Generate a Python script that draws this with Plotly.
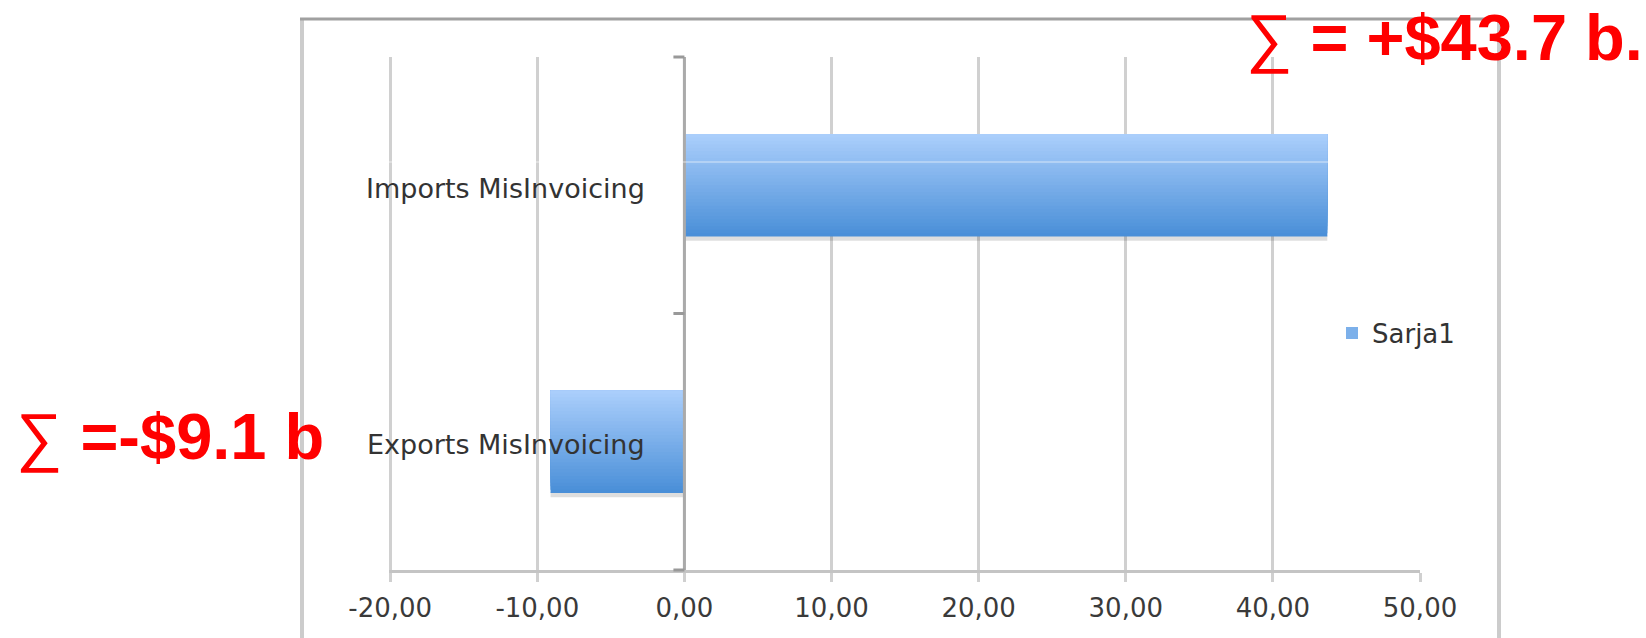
import plotly.graph_objects as go

# ---------------- data ----------------
categories = ["Exports MisInvoicing", "Imports MisInvoicing"]
values = [-9.1, 43.7]
series_name = "Sarja1"
tick_values = [-20, -10, 0, 10, 20, 30, 40, 50]
tick_labels = ["-20,00", "-10,00", "0,00", "10,00", "20,00", "30,00", "40,00", "50,00"]
note_imports = "∑<b> = +$43.7 b.</b>"
note_exports = "∑<b> =-$9.1 b</b>"

# ---------------- layout geometry (pixels) ----------------
FW, FH = 1646, 638
L, R, T, B = 389, 1420, 57, 570
W, H = R - L, B - T


def px(x):
    return (x - L) / W


def py(y):
    return (B - y) / H


fig = go.Figure()

# shadow under bars
fig.add_trace(go.Bar(
    y=categories, x=values, orientation="h",
    offset=-0.2 - 0.016, width=0.02,
    marker=dict(color="rgba(0,0,0,0.13)", line=dict(width=0)),
    showlegend=False, hoverinfo="skip",
))

# gradient bars: overlapping slices, each reaching the bar top, drawn bottom -> top
N = 30
top_c = (170, 206, 251)
bot_c = (74, 143, 216)
bar_w = 0.4
for i in range(N):
    t = i / (N - 1)  # 0 bottom .. 1 top
    c = tuple(round(bot_c[k] + (top_c[k] - bot_c[k]) * t) for k in range(3))
    off = -bar_w / 2 + i * bar_w / N
    fig.add_trace(go.Bar(
        y=categories, x=values, orientation="h",
        offset=off, width=bar_w / 2 - off,
        marker=dict(color="rgb(%d,%d,%d)" % c, line=dict(width=0)),
        name=series_name, showlegend=(i == N // 2),
        hoverinfo="x+y",
    ))

shapes = []
# outer chart frame
shapes.append(dict(type="line", xref="paper", yref="paper", x0=px(302), x1=px(302), y0=py(19), y1=py(660),
                   line=dict(color="#cccccc", width=4)))
shapes.append(dict(type="line", xref="paper", yref="paper", x0=px(1499), x1=px(1499), y0=py(19), y1=py(660),
                   line=dict(color="#cccccc", width=4)))
shapes.append(dict(type="line", xref="paper", yref="paper", x0=px(300), x1=px(1501), y0=py(19), y1=py(19),
                   line=dict(color="#a0a0a0", width=3)))
# vertical category axis at x = 0
shapes.append(dict(type="line", xref="x", yref="paper", x0=0, x1=0, y0=0, y1=1, layer="above",
                   line=dict(color="#aaaaaa", width=3)))
for yy in [0, 0.5, 1]:
    shapes.append(dict(type="line", xref="x", yref="paper", xsizemode="pixel", xanchor=0,
                       x0=-11, x1=0, y0=yy, y1=yy, layer="above",
                       line=dict(color="#999999", width=3)))
# faint white scan line across the chart
shapes.append(dict(type="line", xref="paper", yref="paper", x0=px(304), x1=px(1497), y0=py(162), y1=py(162),
                   layer="above", line=dict(color="rgba(255,255,255,0.65)", width=1)))

annotations = []
# category labels next to the vertical axis
for cat, yshift in zip(categories, [-3, -3]):
    annotations.append(dict(
        xref="x", yref="y", x=0, y=cat, xanchor="right", yanchor="middle",
        xshift=-37, yshift=yshift, showarrow=False, text=cat,
        font=dict(family="DejaVu Sans", size=27, color="#333333"),
    ))
# red sums
annotations.append(dict(
    xref="paper", yref="paper", x=px(1244), y=py(37), xanchor="left", yanchor="middle",
    showarrow=False, text=note_imports,
    font=dict(family="Liberation Sans, Arial", size=65, color="#ff0000"),
))
annotations.append(dict(
    xref="paper", yref="paper", x=px(14), y=py(436), xanchor="left", yanchor="middle",
    showarrow=False, text=note_exports,
    font=dict(family="Liberation Sans, Arial", size=65, color="#ff0000"),
))

fig.update_layout(
    width=FW, height=FH, autosize=False,
    margin=dict(l=L, r=FW - R, t=T, b=FH - B, pad=0),
    paper_bgcolor="white", plot_bgcolor="white",
    barmode="overlay",
    xaxis=dict(
        range=[-20.08, 50], tickmode="array", tickvals=tick_values, ticktext=tick_labels,
        showgrid=True, gridcolor="#d0d0d0", gridwidth=3,
        zeroline=False,
        showline=True, linecolor="#c4c4c4", linewidth=3,
        ticks="outside", ticklen=9, tickwidth=3, tickcolor="#d0d0d0",
        ticklabelstandoff=4,
        tickfont=dict(family="DejaVu Sans", size=26, color="#3a3a3a"),
        fixedrange=True,
    ),
    yaxis=dict(
        type="category", categoryorder="array", categoryarray=categories,
        range=[-0.5, 1.5], showticklabels=False, showgrid=False, zeroline=False,
        showline=False, ticks="", fixedrange=True,
    ),
    legend=dict(
        x=px(1332), y=py(333), xanchor="left", yanchor="middle",
        bgcolor="rgba(0,0,0,0)", borderwidth=0,
        font=dict(family="DejaVu Sans", size=26, color="#333333"),
    ),
    shapes=shapes,
    annotations=annotations,
    showlegend=True,
)

fig.write_html("out.html")
